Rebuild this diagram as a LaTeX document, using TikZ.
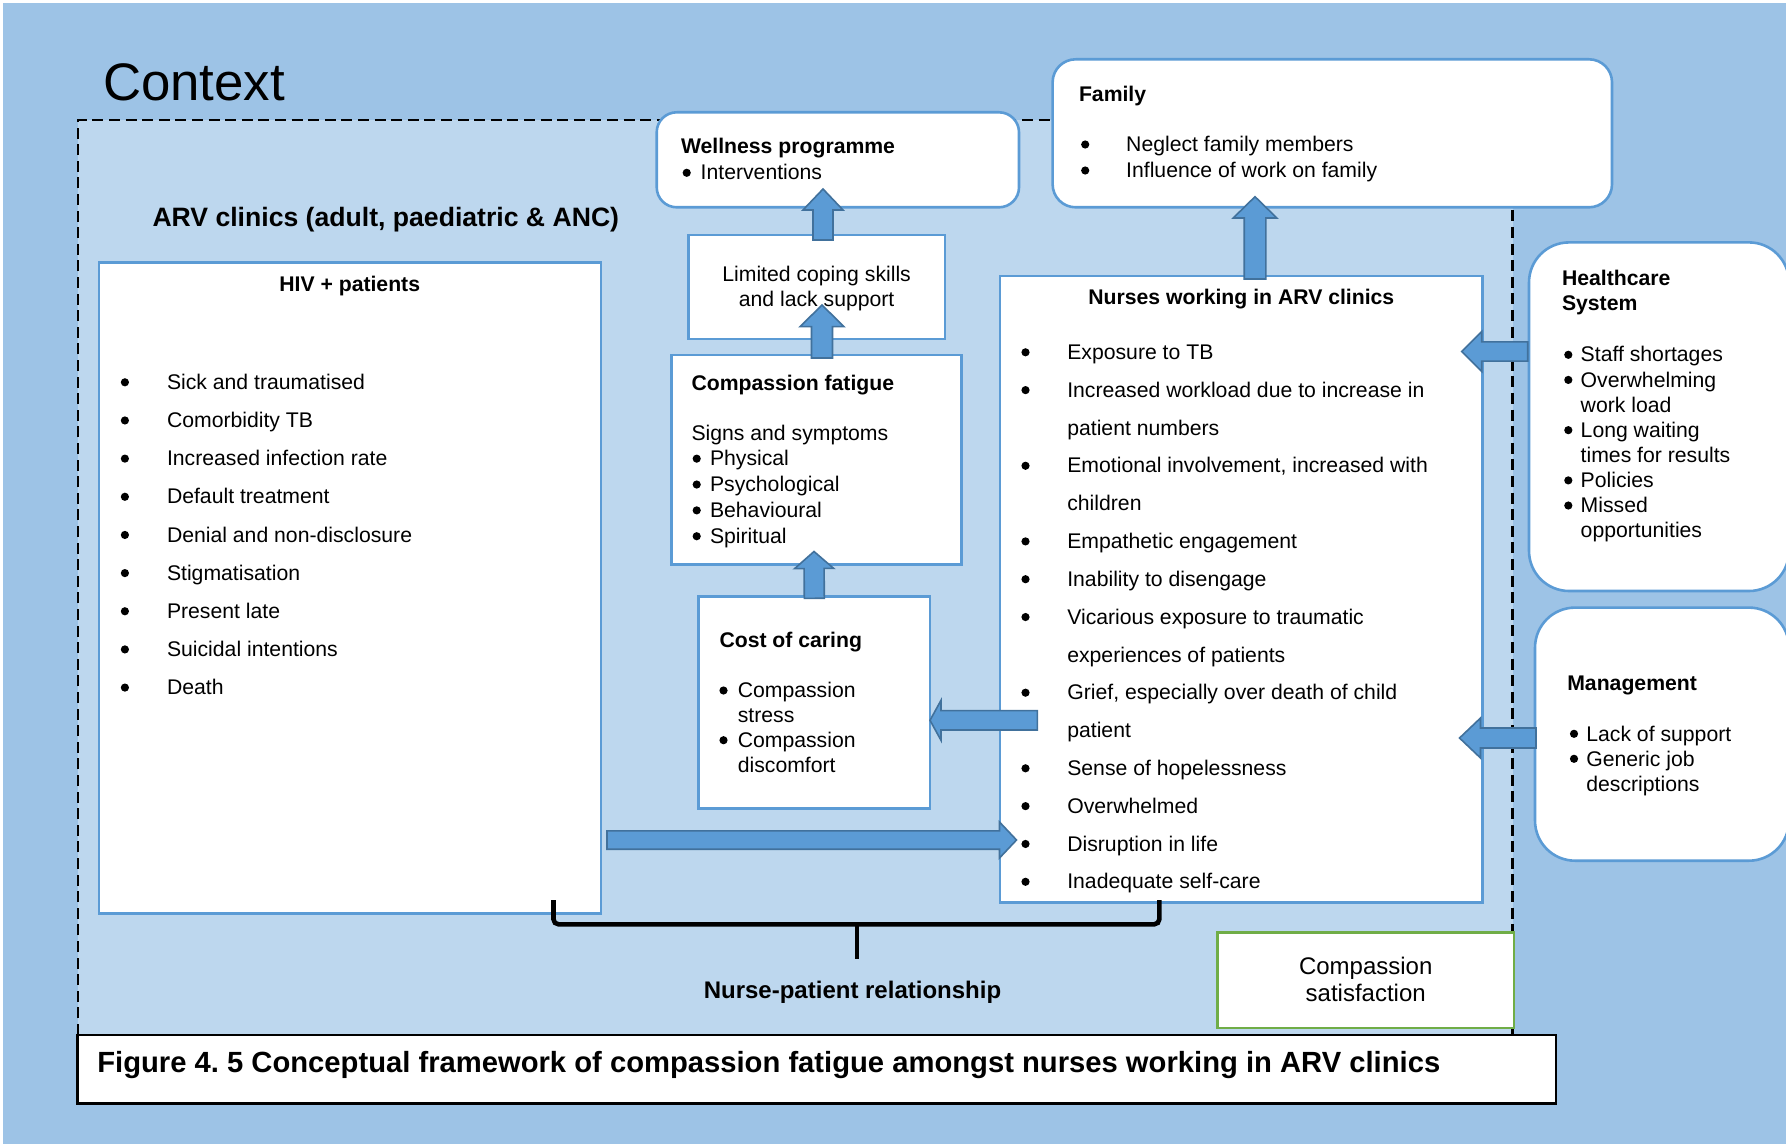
\documentclass[tikz,border=0pt]{standalone}
\usepackage{fontspec}
\setmainfont{Liberation Sans}
\usetikzlibrary{calc,fit}
\frenchspacing

\definecolor{outerblue}{HTML}{9DC3E6}
\definecolor{innerblue}{HTML}{BDD7EE}
\definecolor{boxblue}{HTML}{5B9BD5}
\definecolor{arrowedge}{HTML}{41719C}
\definecolor{satgreen}{HTML}{70AD47}

% body text: 10.6pt with a chosen line pitch
\newcommand\bodyfont[1]{\fontsize{10.6pt}{#1}\selectfont}
% round bullet drawn as a disc, centred on the current point
\newcommand\bigbul{\makebox[0pt][c]{\tikz[baseline=0pt]\fill (0pt,3.6pt) circle[radius=2.05pt];}}
% bullet followed by its text at a fixed distance from the bullet centre
\newcommand\bul[2]{\bigbul\hspace*{#1}#2}

% block arrow from #1 to #2: shaft half-width #3, head half-width #4, head length #5
\newcommand\blockarrow[5]{%
  \coordinate (ba-h) at ($(#2)!#5!(#1)$);
  \draw[flowarrow] ($(#1)!#3!90:(#2)$) -- ($(ba-h)!#3!90:(#2)$) -- ($(ba-h)!#4!90:(#2)$)
    -- (#2) -- ($(ba-h)!#4!-90:(#2)$) -- ($(ba-h)!#3!-90:(#2)$) -- ($(#1)!#3!-90:(#2)$) -- cycle;}

\tikzset{
  box/.style={draw=boxblue, line width=1.3pt, fill=white, inner sep=0pt, outer sep=0pt},
  roundbox/.style={box, rounded corners=#1},
  flowarrow/.style={fill=boxblue, draw=arrowedge, line width=0.8pt, line join=miter},
  txt/.style={inner sep=0pt, outer sep=0pt, anchor=base west},
  ctxt/.style={inner sep=0pt, outer sep=0pt, anchor=base},
  contextline/.style={line width=1.2pt, dash pattern=on 5.5pt off 2.8pt},
  bracestyle/.style={line width=2.3pt, line cap=butt},
}

\begin{document}
\begin{tikzpicture}[x=0.5pt, y=-0.5pt]
\clip (0,0) rectangle (1786,1144);
\useasboundingbox (0,0) rectangle (1786,1144);

% backgrounds
\fill[white] (0,0) rectangle (1786,1144);
\fill[outerblue] (3,3) rectangle (1786,1144);
\fill[innerblue] (77.8,120) rectangle (1512.6,1035);
\draw[contextline] (77.8,1035) -- (77.8,120) -- (1512.6,120) -- (1512.6,1035);

\node[txt, font=\fontsize{26.4pt}{30pt}\selectfont] (context) at (103,101) {Context};
\node[txt, font=\fontsize{13.3pt}{16pt}\selectfont\bfseries] (clinics) at (152.5,226.7) {ARV clinics (adult, paediatric \& ANC)};

% boxes
\node[box, fit={(98.8,262.5) (600.8,913.3)}] (hiv) {};
\node[roundbox=10pt, fit={(656.7,112.3) (1019,207.3)}] (well) {};
\node[roundbox=11.5pt, fit={(1052.6,59.3) (1612,207.3)}] (fam) {};
\node[box, fit={(688.3,235) (945,339)}] (lim) {};
\node[box, fit={(671.7,355) (961.5,564.5)}] (cf) {};
\node[box, fit={(698.6,596.3) (930,808.5)}] (cost) {};
\node[box, fit={(1000,276) (1482.5,902.5)}] (nur) {};
\node[roundbox=20pt, fit={(1529,242.4) (1789,591)}] (hcs) {};
\node[roundbox=20pt, fit={(1535,607.6) (1789,860.7)}] (mgt) {};
\node[box, draw=satgreen, fit={(1217.7,932.3) (1514,1028)}] (sat) {};
\node[box, draw=black, line width=1.2pt, fit={(77.5,1035) (1556,1103.3)}] (cap) {};

% HIV + patients
\node[ctxt, font=\bodyfont{13pt}\bfseries] (hivt) at (349.7,292) {HIV + patients};
\node[txt, font=\bodyfont{19.08pt}] (hivl) at (124.9,389.5) {\begin{tabular}[t]{@{}l@{}}
\bul{21.05pt}{Sick and traumatised}\\
\bul{21.05pt}{Comorbidity TB}\\
\bul{21.05pt}{Increased infection rate}\\
\bul{21.05pt}{Default treatment}\\
\bul{21.05pt}{Denial and non-disclosure}\\
\bul{21.05pt}{Stigmatisation}\\
\bul{21.05pt}{Present late}\\
\bul{21.05pt}{Suicidal intentions}\\
\bul{21.05pt}{Death}
\end{tabular}};

% Wellness programme
\node[txt, font=\bodyfont{13pt}\bfseries] (wellt) at (681,153.5) {Wellness programme};
\node[txt, font=\bodyfont{13pt}] (welll) at (686.7,180) {\bul{7pt}{Interventions}};

% Family
\node[txt, font=\bodyfont{13pt}\bfseries] (famt) at (1079,101.7) {Family};
\node[txt, font=\bodyfont{13pt}] (faml) at (1085.2,151.7) {\begin{tabular}[t]{@{}l@{}}
\bul{20.5pt}{Neglect family members}\\
\bul{20.5pt}{Influence of work on family}
\end{tabular}};

% Limited coping skills
\node[ctxt, font=\bodyfont{12.4pt}] (limt) at (816.6,282) {\begin{tabular}[t]{@{}c@{}}
Limited coping skills\\ and lack support
\end{tabular}};

% Compassion fatigue
\node[txt, font=\bodyfont{13pt}\bfseries] (cft) at (691.5,390) {Compassion fatigue};
\node[txt, font=\bodyfont{12.93pt}] (cfl) at (691.5,440) {\begin{tabular}[t]{@{}l@{}}
Signs and symptoms\\
\hspace*{2.6pt}\bul{6.65pt}{Physical}\\
\hspace*{2.6pt}\bul{6.65pt}{Psychological}\\
\hspace*{2.6pt}\bul{6.65pt}{Behavioural}\\
\hspace*{2.6pt}\bul{6.65pt}{Spiritual}
\end{tabular}};

% Cost of caring
\node[txt, font=\bodyfont{13pt}\bfseries] (costt) at (719.5,647) {Cost of caring};
\node[txt, font=\bodyfont{12.43pt}] (costl) at (723.5,697.7) {\begin{tabular}[t]{@{}l@{}}
\bul{7.15pt}{Compassion}\\
\hspace*{7.15pt}stress\\
\bul{7.15pt}{Compassion}\\
\hspace*{7.15pt}discomfort
\end{tabular}};

% Nurses working in ARV clinics
\node[ctxt, font=\bodyfont{13pt}\bfseries] (nurt) at (1241.3,305) {Nurses working in ARV clinics};
\node[txt, font=\bodyfont{18.91pt}] (nurl) at (1025.5,359.5) {\begin{tabular}[t]{@{}l@{}}
\bul{20.9pt}{Exposure to TB}\\
\bul{20.9pt}{Increased workload due to increase in}\\
\hspace*{20.9pt}patient numbers\\
\bul{20.9pt}{Emotional involvement, increased with}\\
\hspace*{20.9pt}children\\
\bul{20.9pt}{Empathetic engagement}\\
\bul{20.9pt}{Inability to disengage}\\
\bul{20.9pt}{Vicarious exposure to traumatic}\\
\hspace*{20.9pt}experiences of patients\\
\bul{20.9pt}{Grief, especially over death of child}\\
\hspace*{20.9pt}patient\\
\bul{20.9pt}{Sense of hopelessness}\\
\bul{20.9pt}{Overwhelmed}\\
\bul{20.9pt}{Disruption in life}\\
\bul{20.9pt}{Inadequate self-care}
\end{tabular}};

% Healthcare System
\node[txt, font=\bodyfont{12.5pt}\bfseries] (hcst) at (1562,286) {\begin{tabular}[t]{@{}l@{}}
Healthcare\\ System
\end{tabular}};
\node[txt, font=\bodyfont{12.56pt}] (hcsl) at (1568.3,362) {\begin{tabular}[t]{@{}l@{}}
\bul{6.2pt}{Staff shortages}\\
\bul{6.2pt}{Overwhelming}\\
\hspace*{6.2pt}work load\\
\bul{6.2pt}{Long waiting}\\
\hspace*{6.2pt}times for results\\
\bul{6.2pt}{Policies}\\
\bul{6.2pt}{Missed}\\
\hspace*{6.2pt}opportunities
\end{tabular}};

% Management
\node[txt, font=\bodyfont{12.5pt}\bfseries] (mgtt) at (1567.3,690.6) {Management};
\node[txt, font=\bodyfont{12.5pt}] (mgtl) at (1574,741) {\begin{tabular}[t]{@{}l@{}}
\bul{6.15pt}{Lack of support}\\
\bul{6.15pt}{Generic job}\\
\hspace*{6.15pt}descriptions
\end{tabular}};

% Compassion satisfaction
\node[ctxt, font=\fontsize{12pt}{13.4pt}\selectfont] (satt) at (1365.7,974.4) {\begin{tabular}[t]{@{}c@{}}
Compassion\\ satisfaction
\end{tabular}};

% nurse-patient relationship brace
\draw[bracestyle, rounded corners=2.5pt] (553.5,900) -- (553.5,924.3) -- (1159.3,924.3) -- (1159.3,900);
\draw[bracestyle] (857,924.3) -- (857,959.3);
\node[ctxt, font=\fontsize{12pt}{14pt}\selectfont\bfseries] (npr) at (852.5,998.5) {Nurse-patient relationship};

% caption
\node[txt, font=\fontsize{14.6pt}{17pt}\selectfont\bfseries] (capt) at (97.3,1072.7) {Figure 4. 5 Conceptual framework of compassion fatigue amongst nurses working in ARV clinics};

% block arrows
\coordinate (a1s) at ($(lim.north)+(6.35,5)$);
\coordinate (a1e) at ($(well.south)+(-14.85,-18.3)$);
\blockarrow{a1s}{a1e}{5pt}{10pt}{10.5pt}

\coordinate (a2s) at ($(cf.north)+(5.4,3)$);
\coordinate (a2e) at ($(lim.south)+(5.35,-34)$);
\blockarrow{a2s}{a2e}{5.25pt}{11pt}{10.85pt}

\coordinate (a3s) at ($(cost.north)+(0,2)$);
\coordinate (a3e) at ($(cf.south)+(-2.6,-13)$);
\blockarrow{a3s}{a3e}{5pt}{9.75pt}{8.5pt}

\coordinate (a4s) at ($(nur.north)+(13.75,3)$);
\coordinate (a4e) at ($(fam.south)+(-77.3,-10.6)$);
\blockarrow{a4s}{a4e}{5.4pt}{10.9pt}{10.65pt}

\coordinate (a5s) at ($(hcs.west)+(-1.3,-65.2)$);
\coordinate (a5e) at ($(nur.north east)+(-20.8,75.5)$);
\blockarrow{a5s}{a5e}{4.8pt}{10pt}{10pt}

\coordinate (a6s) at ($(mgt.west)+(1,3.85)$);
\coordinate (a6e) at ($(nur.east)+(-23,148.75)$);
\blockarrow{a6s}{a6e}{5pt}{10pt}{10.5pt}

\coordinate (a7s) at ($(nur.west)+(37.3,131.05)$);
\coordinate (a7e) at ($(cost.east)+(0,17.9)$);
\blockarrow{a7s}{a7e}{4.85pt}{10pt}{5.5pt}

\coordinate (a8s) at ($(hiv.east)+(6.2,252.1)$);
\coordinate (a8e) at ($(nur.west)+(16.5,250.75)$);
\blockarrow{a8s}{a8e}{4.6pt}{9pt}{8.5pt}
\end{tikzpicture}
\end{document}
